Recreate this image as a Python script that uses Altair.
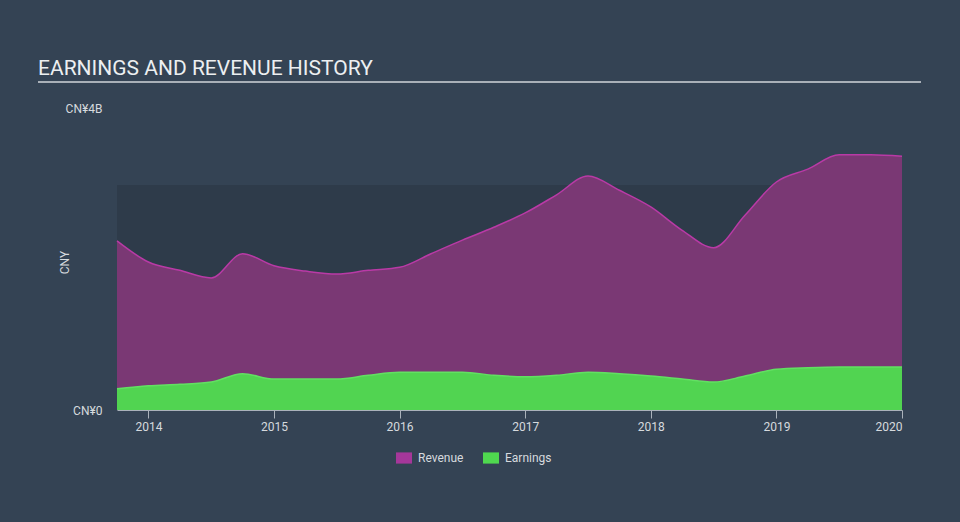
import altair as alt
import pandas as pd

# ---- data (values in CN¥ billions) ----
years = [2013.75, 2014.0, 2014.25, 2014.5, 2014.75, 2015.0, 2015.25, 2015.5, 2015.75,
         2016.0, 2016.25, 2016.5, 2016.75, 2017.0, 2017.25, 2017.5, 2017.75, 2018.0,
         2018.25, 2018.5, 2018.75, 2019.0, 2019.25, 2019.5, 2019.75, 2020.0]
revenue = [2.24, 1.96, 1.85, 1.75, 2.07, 1.91, 1.84, 1.80, 1.85,
           1.89, 2.07, 2.25, 2.42, 2.61, 2.85, 3.10, 2.91, 2.69,
           2.38, 2.15, 2.58, 3.02, 3.19, 3.38, 3.38, 3.36]
earnings = [0.28, 0.32, 0.34, 0.37, 0.48, 0.41, 0.41, 0.41, 0.46,
            0.50, 0.50, 0.50, 0.46, 0.44, 0.46, 0.50, 0.48, 0.45,
            0.41, 0.37, 0.45, 0.54, 0.56, 0.57, 0.57, 0.57]
series_names = ["Revenue", "Earnings"]
series_colors = ["#a5379a", "#4fd84f"]
x_ticks = [2014, 2015, 2016, 2017, 2018, 2019, 2020]
y_ticks = [0, 4]
band = {"x0": 2013.75, "x1": 2020.0, "y0": 0, "y1": 2.98}
title_text = "EARNINGS AND REVENUE HISTORY"

df = pd.DataFrame({"year": years, "revenue": revenue, "earnings": earnings})
band_df = pd.DataFrame([band])
legend_df = pd.DataFrame({"series": series_names, "year": [2014, 2014], "v": [0, 0]})

LIGHT = "#d6dade"
xscale = alt.Scale(domain=[2013.75, 2020.0], nice=False, zero=False)
yscale = alt.Scale(domain=[0, 4], nice=False)

xaxis = alt.Axis(values=x_ticks, format="d", grid=False, tickSize=8, tickColor="#aab2bb",
                 domainColor="#aab2bb", labelColor=LIGHT, labelFontSize=12,
                 labelPadding=3, title=None, labelFont="Roboto")
yaxis = alt.Axis(values=y_ticks, grid=False, ticks=False, domain=False,
                 labelExpr="datum.value == 0 ? 'CN¥0' : 'CN¥' + datum.value + 'B'",
                 labelColor=LIGHT, labelFontSize=12, labelPadding=15, labelFont="Roboto",
                 title="CNY", titleColor=LIGHT, titleFontSize=12, titleFontWeight="normal",
                 titleFont="Roboto", titleAngle=270, titleAlign="center",
                 titleBaseline="middle", titleX=-53, titleY=154)

bg_band = alt.Chart(band_df).mark_rect(color="#2e3b4a").encode(
    x=alt.X("x0:Q", scale=xscale, axis=xaxis),
    x2="x1:Q",
    y=alt.Y("y0:Q", scale=yscale, axis=yaxis),
    y2="y1:Q",
)

rev_area = alt.Chart(df).mark_area(
    color="#7a3874", opacity=1, fillOpacity=1, interpolate="monotone",
    line={"color": "#b93aa6", "strokeWidth": 1.5},
).encode(x=alt.X("year:Q", scale=xscale), y=alt.Y("revenue:Q", scale=yscale))

earn_area = alt.Chart(df).mark_area(
    color="#51d451", opacity=1, fillOpacity=1, interpolate="monotone",
    line={"color": "#62e062", "strokeWidth": 1.5},
).encode(x=alt.X("year:Q", scale=xscale), y=alt.Y("earnings:Q", scale=yscale))

legend_layer = alt.Chart(legend_df).mark_point(filled=True, opacity=0).encode(
    x=alt.X("year:Q", scale=xscale),
    y=alt.Y("v:Q", scale=yscale),
    color=alt.Color("series:N", scale=alt.Scale(domain=series_names, range=series_colors),
                    legend=alt.Legend(title=None, orient="none", legendX=279, legendY=342,
                                      direction="horizontal", symbolType="M-1,-0.7H1V0.7H-1Z",
                                      symbolSize=256, symbolOpacity=1, symbolStrokeWidth=0,
                                      labelColor=LIGHT, labelFontSize=12, labelFont="Roboto",
                                      columnPadding=19, labelOffset=6, padding=0)),
)

title_layer = alt.Chart(pd.DataFrame({"t": [title_text]})).mark_text(
    align="left", baseline="alphabetic", fontSize=21, font="Roboto", color="#eceff1"
).encode(x=alt.value(-79), y=alt.value(-33), text="t:N")

underline = alt.Chart(pd.DataFrame({"a": [0]})).mark_rule(color="#a9b0b8", strokeWidth=2).encode(
    x=alt.value(-79), x2=alt.value(804), y=alt.value(-26)
)

chart = alt.layer(bg_band, rev_area, earn_area, legend_layer, title_layer, underline).properties(
    width=785, height=302,
    autosize=alt.AutoSizeParams(type="none"),
    padding={"left": 117, "top": 108, "right": 58, "bottom": 112},
    background="#344354",
).configure_view(stroke=None)

chart.save("out.html", embed_options={"renderer": "svg", "actions": False})
